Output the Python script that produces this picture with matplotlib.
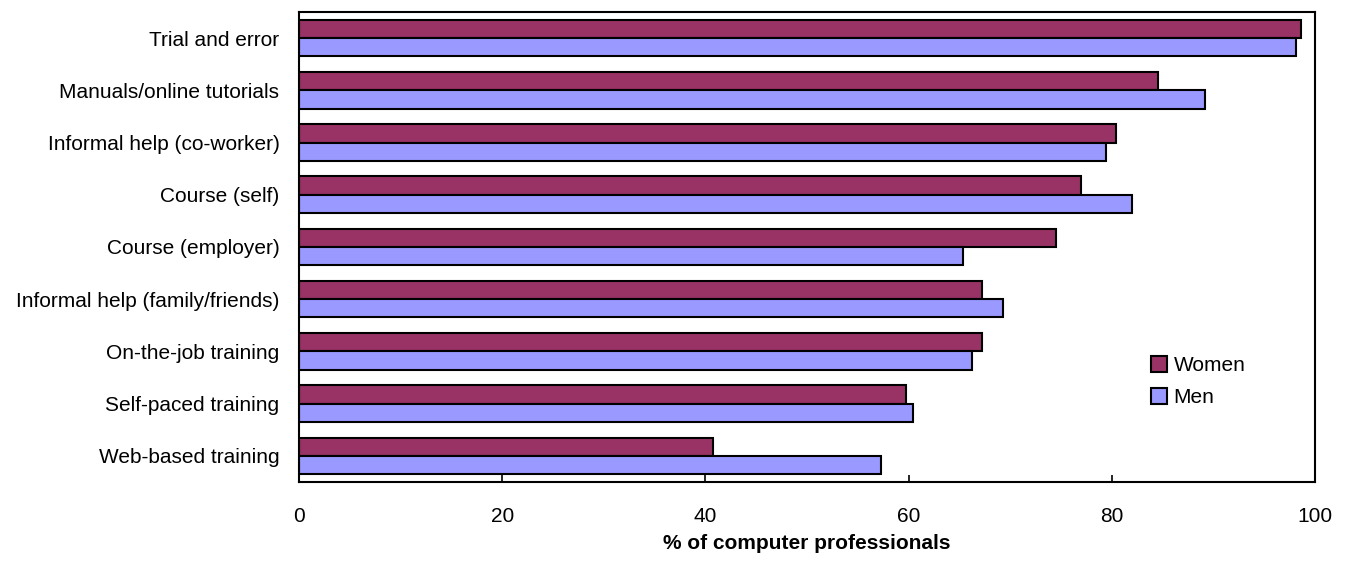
import matplotlib.pyplot as plt
import numpy as np

plt.rcParams['font.family'] = ['Liberation Sans', 'DejaVu Sans']

categories = ["Trial and error", "Manuals/online tutorials", "Informal help (co-worker)",
              "Course (self)", "Course (employer)", "Informal help (family/friends)",
              "On-the-job training", "Self-paced training", "Web-based training"]
women = [98.6, 84.5, 80.4, 77.0, 74.5, 67.2, 67.2, 59.7, 40.8]
men = [98.1, 89.2, 79.4, 82.0, 65.4, 69.3, 66.2, 60.4, 57.3]

fig = plt.figure(figsize=(13.49, 5.65), dpi=100)
ax = fig.add_axes([0.2216, 0.1469, 0.7532, 0.8319])

y = np.arange(len(categories))
h = 0.35
ax.barh(y - h / 2, women, height=h, color="#993366", edgecolor="black", linewidth=1.5, label="Women")
ax.barh(y + h / 2, men, height=h, color="#9999FF", edgecolor="black", linewidth=1.5, label="Men")

ax.set_ylim(len(categories) - 0.5, -0.5)
ax.set_xlim(0, 100)
ax.set_yticks(y)
ax.set_yticklabels(categories, fontsize=15)
ax.set_xticks(np.arange(0, 101, 20))
ax.tick_params(axis="x", direction="in", length=5, width=1.2, labelsize=15, pad=18)
ax.tick_params(axis="y", length=0, pad=14)
for s in ax.spines.values():
    s.set_linewidth(1.5)

ax.set_xlabel("% of computer professionals", fontsize=15, fontweight="bold", labelpad=6)

ax.legend(loc="lower right", bbox_to_anchor=(0.95, 0.12), frameon=False, fontsize=15,
          handlelength=0.8, handleheight=0.8, handletextpad=0.3, labelspacing=0.6)

fig.savefig("out.png", dpi=100)
